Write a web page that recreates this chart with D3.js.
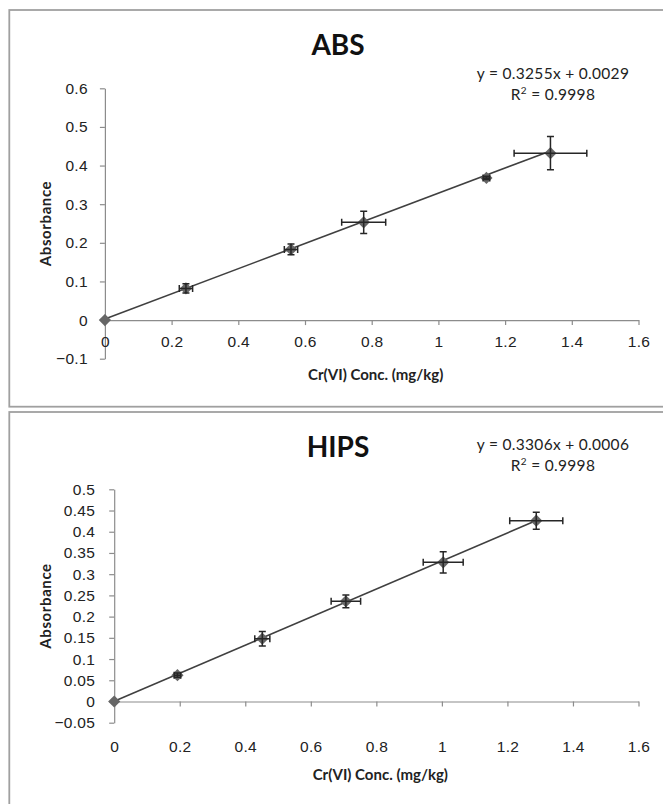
<!DOCTYPE html>
<html>
<head>
<meta charset="utf-8">
<script src="https://cdn.jsdelivr.net/npm/d3@7"></script>
<style>
  html, body { margin: 0; padding: 0; background: #fff; }
  svg { display: block; font-family: Lato, "Open Sans", sans-serif; }
  .axis path, .axis line { stroke: #8c8c8c; stroke-width: 1.2; }
  .axis text { fill: #222; font-size: 15.5px; letter-spacing: 0.3px; }
</style>
</head>
<body>
<svg id="chart" width="663" height="804"></svg>
<script>
// ABS panel
const absConc = [0, 0.243, 0.558, 0.776, 1.144, 1.336]
const absAbsorbance = [0, 0.082, 0.183, 0.253, 0.368, 0.432]
const absConcErr = [0, 0.02, 0.02, 0.066, 0.01, 0.109]
const absAbsErr = [0, 0.012, 0.014, 0.029, 0.004, 0.043]
const absFit = { slope: 0.3255, intercept: 0.0029, r2: '0.9998' }
const absYTicks = [-0.1, 0, 0.1, 0.2, 0.3, 0.4, 0.5, 0.6]

// HIPS panel
const hipsConc = [0, 0.193, 0.452, 0.707, 1.004, 1.288]
const hipsAbsorbance = [0, 0.062, 0.148, 0.236, 0.328, 0.426]
const hipsConcErr = [0, 0.01, 0.023, 0.045, 0.061, 0.081]
const hipsAbsErr = [0, 0.005, 0.017, 0.015, 0.025, 0.02]
const hipsFit = { slope: 0.3306, intercept: 0.0006, r2: '0.9998' }
const hipsYTicks = [-0.05, 0, 0.05, 0.1, 0.15, 0.2, 0.25, 0.3, 0.35, 0.4, 0.45, 0.5]

const xTicks = [0, 0.2, 0.4, 0.6, 0.8, 1, 1.2, 1.4, 1.6]

const svg = d3.select('#chart')

function drawPanel(opt) {
	const g = svg.append('g')

	// chart frame (runs off the right / bottom of the picture)
	g.append('rect')
		.attr('x', opt.frame[0]).attr('y', opt.frame[1])
		.attr('width', opt.frame[2]).attr('height', opt.frame[3])
		.attr('fill', 'none').attr('stroke', '#a0a0a0').attr('stroke-width', 1.8)

	const x = d3.scaleLinear().domain([0, 1.6]).range([opt.left, 638.5])
	const y = d3.scaleLinear().domain(opt.yDomain).range([opt.bottom, opt.top])

	// y axis
	g.append('g')
		.attr('class', 'axis')
		.attr('transform', 'translate(' + x(0) + ',0)')
		.call(d3.axisLeft(y).tickValues(opt.yTicks).tickSize(5).tickPadding(opt.yPad)
			.tickSizeOuter(0).tickFormat(d => d3.format('')(+d.toFixed(2))))

	// x axis on y = 0
	g.append('g')
		.attr('class', 'axis')
		.attr('transform', 'translate(0,' + y(0) + ')')
		.call(d3.axisBottom(x).tickValues(xTicks).tickSize(5).tickPadding(opt.xPad)
			.tickSizeOuter(0).tickFormat(d => d3.format('')(+d.toFixed(1))))

	// trendline
	const xs = opt.conc
	const xmax = d3.max(xs)
	g.append('line')
		.attr('x1', x(0)).attr('y1', y(opt.fit.intercept))
		.attr('x2', x(xmax)).attr('y2', y(opt.fit.slope * xmax + opt.fit.intercept))
		.attr('stroke', '#404040').attr('stroke-width', 1.6)

	const pts = xs.map((c, i) => ({ c: c, a: opt.abs[i], ec: opt.concErr[i], ea: opt.absErr[i] }))

	// markers
	g.append('g').selectAll('path')
		.data(pts)
		.join('path')
			.attr('d', d3.symbol(d3.symbolDiamond2, 95))
			.attr('transform', d => 'translate(' + x(d.c) + ',' + y(d.a) + ')')
			.attr('fill', '#666')

	// error bars
	const eb = g.append('g').attr('stroke', '#262626').attr('stroke-width', 1.5).attr('fill', 'none')
	pts.filter(d => d.ec > 0 || d.ea > 0).forEach(d => {
		const cx = x(d.c), cy = y(d.a)
		const x1 = x(d.c - d.ec), x2 = x(d.c + d.ec)
		const y1 = y(d.a + d.ea), y2 = y(d.a - d.ea)
		eb.append('path').attr('d',
			'M' + x1 + ',' + cy + 'H' + x2 +
			'M' + x1 + ',' + (cy - 3.5) + 'V' + (cy + 3.5) +
			'M' + x2 + ',' + (cy - 3.5) + 'V' + (cy + 3.5) +
			'M' + cx + ',' + y1 + 'V' + y2 +
			'M' + (cx - 3.5) + ',' + y1 + 'H' + (cx + 3.5) +
			'M' + (cx - 3.5) + ',' + y2 + 'H' + (cx + 3.5))
	})

	// title
	g.append('text')
		.attr('x', 338).attr('y', opt.titleY)
		.attr('text-anchor', 'middle')
		.attr('font-size', 28).attr('font-weight', 'bold').attr('fill', '#111')
		.text(opt.title)

	// equation
	const eq = g.append('text')
		.attr('text-anchor', 'middle').attr('font-size', 15.5).attr('fill', '#222')
		.attr('letter-spacing', 0.3)
	eq.append('tspan').attr('x', 553).attr('y', opt.eqY)
		.text('y = ' + opt.fit.slope.toFixed(4) + 'x + ' + opt.fit.intercept.toFixed(4))
	const r = eq.append('tspan').attr('x', 553).attr('y', opt.eqY + 21)
	r.append('tspan').text('R')
	r.append('tspan').attr('dy', -6).attr('font-size', 10).text('2')
	r.append('tspan').attr('dy', 6).text(' = ' + opt.fit.r2)

	// axis titles
	g.append('text')
		.attr('x', (x(0) + x(1.6)) / 2 + 4).attr('y', opt.xTitleY)
		.attr('text-anchor', 'middle')
		.attr('font-size', 15).attr('font-weight', 'bold').attr('fill', '#222')
		.text('Cr(VI) Conc. (mg/kg)')

	g.append('text')
		.attr('transform', 'translate(51,' + (opt.top + opt.bottom) / 2 + ') rotate(-90)')
		.attr('text-anchor', 'middle')
		.attr('font-size', 15).attr('font-weight', 'bold').attr('fill', '#222')
		.attr('letter-spacing', 0.6)
		.text('Absorbance')
}

drawPanel({
	title: 'ABS', titleY: 55, eqY: 79, xTitleY: 380,
	frame: [9.3, 10, 700, 396.7],
	left: 104.9, top: 88.3, bottom: 358.7, yDomain: [-0.1, 0.6],
	yTicks: absYTicks, yPad: 12, xPad: 11,
	conc: absConc, abs: absAbsorbance, concErr: absConcErr, absErr: absAbsErr, fit: absFit
})

drawPanel({
	title: 'HIPS', titleY: 457, eqY: 450, xTitleY: 780,
	frame: [9.3, 412, 700, 420],
	left: 114.2, top: 489.3, bottom: 722.7, yDomain: [-0.05, 0.5],
	yTicks: hipsYTicks, yPad: 14, xPad: 35,
	conc: hipsConc, abs: hipsAbsorbance, concErr: hipsConcErr, absErr: hipsAbsErr, fit: hipsFit
})
</script>
</body>
</html>
